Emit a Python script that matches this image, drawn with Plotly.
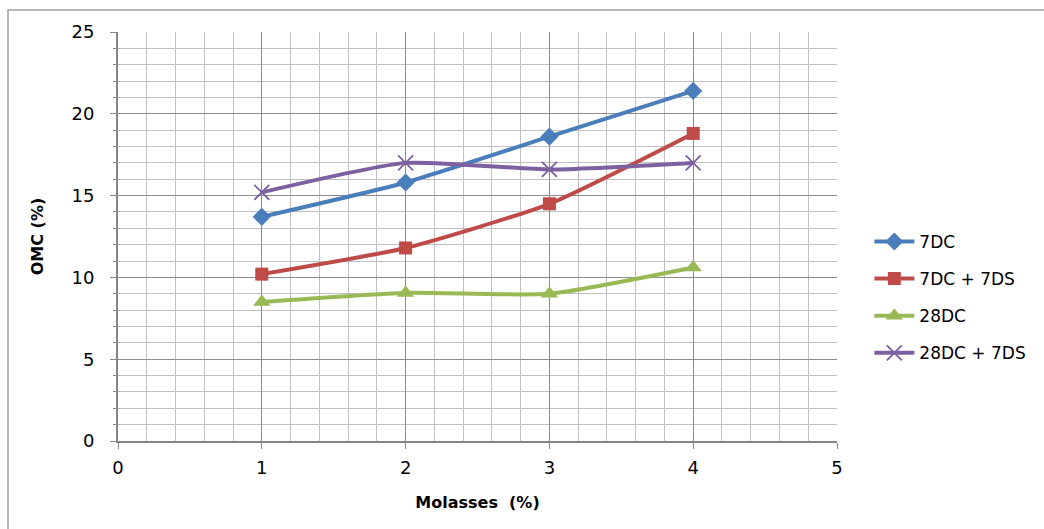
import plotly.graph_objects as go

molasses = [1, 2, 3, 4]
series_names = ["7DC", "7DC + 7DS", "28DC", "28DC + 7DS"]
omc_7dc = [13.7, 15.8, 18.6, 21.4]
omc_7dc_7ds = [10.2, 11.8, 14.5, 18.8]
omc_28dc = [8.5, 9.05, 9.0, 10.6]
omc_28dc_7ds = [15.2, 17.0, 16.6, 17.0]

x_ticks = [0, 1, 2, 3, 4, 5]
y_ticks = [0, 5, 10, 15, 20, 25]

colors = ["#4A7EBB", "#BE4B48", "#98B954", "#7D60A0"]
symbols = ["diamond", "square", "triangle-up", "x-thin-open"]
sizes = [14, 13, 15, 15]
values = [omc_7dc, omc_7dc_7ds, omc_28dc, omc_28dc_7ds]

FONT = "DejaVu Sans"
fig = go.Figure()
for i, (name, vals) in enumerate(zip(series_names, values)):
    marker = dict(symbol=symbols[i], size=sizes[i], color=colors[i])
    if symbols[i] == "x-thin-open":
        marker["line"] = dict(color=colors[i], width=1.8)
    fig.add_trace(go.Scatter(
        x=molasses, y=vals, name=name, mode="lines+markers",
        line=dict(color=colors[i], width=4, shape="spline", smoothing=0.55),
        marker=marker, legendgroup=name,
    ))

W, H = 1044, 529
l, r, t, b = 118, 207, 32, 88

fig.update_layout(
    width=W, height=H,
    margin=dict(l=l, r=r, t=t, b=b),
    paper_bgcolor="white", plot_bgcolor="white",
    font=dict(family=FONT, color="#000000", size=17),
    showlegend=True,
    legend=dict(x=1.045, y=0.351, xanchor="left", yanchor="middle",
                font=dict(size=17, family=FONT), tracegroupgap=12,
                itemwidth=40),
    xaxis=dict(
        range=[0, 5], tickvals=x_ticks, ticktext=[str(v) for v in x_ticks],
        showgrid=True, gridcolor="#8C8C8C", gridwidth=1,
        minor=dict(dtick=0.2, showgrid=True, gridcolor="#C0C0C0", gridwidth=1, ticks=""),
        showline=True, linecolor="#868686", linewidth=2,
        ticks="outside", ticklen=6, tickcolor="#868686",
        tickfont=dict(size=18, family=FONT), zeroline=False, ticklabelstandoff=3,
        title=dict(text="<b>Molasses  (%)</b>", font=dict(size=16, family=FONT), standoff=20),
    ),
    yaxis=dict(
        range=[0, 25], tickvals=y_ticks, ticktext=[str(v) for v in y_ticks],
        showgrid=True, gridcolor="#8C8C8C", gridwidth=1,
        minor=dict(dtick=1, showgrid=True, gridcolor="#C0C0C0", gridwidth=1,
                   ticks="outside", ticklen=3, tickcolor="#868686"),
        showline=True, linecolor="#868686", linewidth=2,
        ticks="outside", ticklen=6, tickcolor="#868686",
        tickfont=dict(size=18, family=FONT), zeroline=False, ticklabelstandoff=12,
        title=dict(text="<b>OMC (%)</b>", font=dict(size=16, family=FONT), standoff=24),
    ),
)

pw = W - l - r
ph = H - t - b
x0 = (8 - l) / pw
x1 = (W + 5 - l) / pw
y1 = (H - 10 - b) / ph
y0 = (-5 - b) / ph
fig.add_shape(type="rect", xref="paper", yref="paper", x0=x0, x1=x1, y0=y0, y1=y1,
              line=dict(color="#A0A0A0", width=1.5), fillcolor="rgba(0,0,0,0)", layer="below")

fig.write_html("out.html")
